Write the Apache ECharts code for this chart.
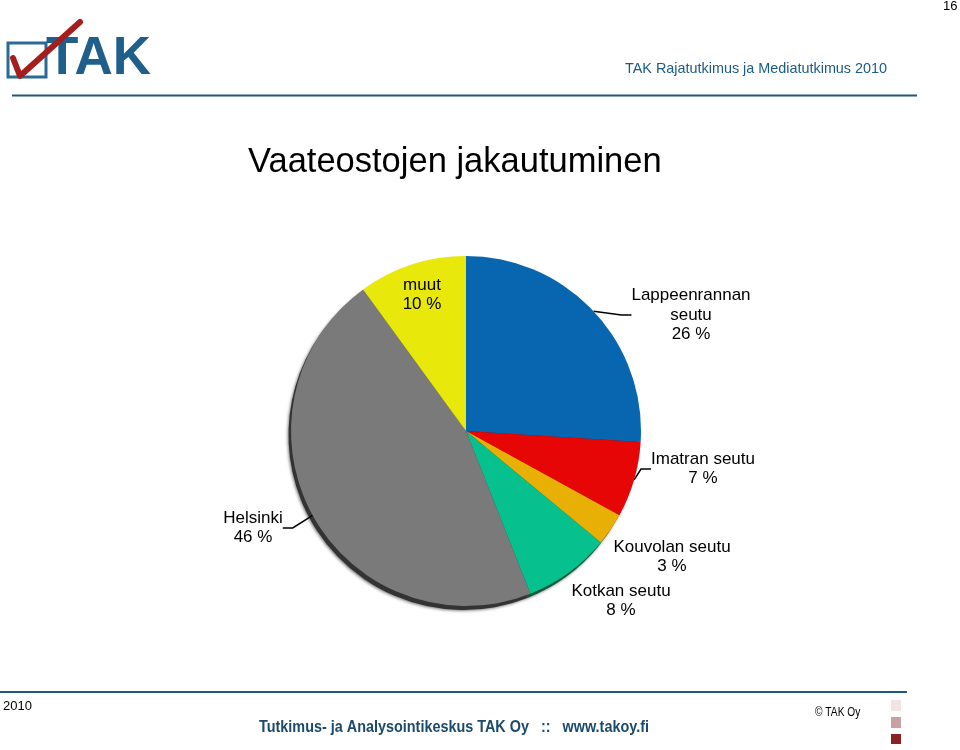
<!DOCTYPE html>
<html>
<head>
<meta charset="utf-8">
<script src="https://cdn.jsdelivr.net/npm/echarts@6/dist/echarts.min.js"></script>
<style>html,body{margin:0;padding:0;background:#fff}#c{width:960px;height:750px}</style>
</head>
<body>
<div id="c"></div>
<script>
// ---- data ----
const categories = ['Lappeenrannan seutu', 'Imatran seutu', 'Kouvolan seutu', 'Kotkan seutu', 'Helsinki', 'muut'];
const values = [26, 7, 3, 8, 46, 10];
const labelNames = ['Lappeenrannan\nseutu', 'Imatran seutu', 'Kouvolan seutu', 'Kotkan seutu', 'Helsinki', 'muut'];

// ---- styles / layout ----
const colors = ['#0865b0', '#e60606', '#e8b005', '#06c08e', '#7a7a7a', '#e8e80a'];
const edgeColors = ['#06406e', '#7a0505', '#7a5a05', '#0a5a3c', '#333333', '#7a7a05'];
const labelPos = [[691, 315], [703, 469], [672, 557], [621, 601], [253, 528], [422, 295]];
const showLine = [true, true, false, false, true, false];
const FONT = '"Liberation Sans", Arial, sans-serif';
const NAVY = '#1b5c84';

const chart = echarts.init(document.getElementById('c'));
chart.setOption({
  animation: false,
  backgroundColor: '#fff',
  title: {
    text: 'Vaateostojen jakautuminen',
    left: 243, top: 140,
    textStyle: {fontFamily: FONT, fontSize: 34.5, fontWeight: 'normal', color: '#000'}
  },
  series: [{
    // darker rim (3-D edge) behind the pie
    type: 'pie',
    center: [463.5, 435],
    radius: 175,
    startAngle: 90,
    clockwise: true,
    silent: true,
    z: 1,
    label: {show: false},
    labelLine: {show: false},
    data: categories.map((n, i) => ({name: n, value: values[i], itemStyle: {color: edgeColors[i]}})),
    itemStyle: {shadowColor: 'rgba(0,0,0,0.5)', shadowBlur: 3, shadowOffsetX: -1, shadowOffsetY: 1}
  }, {
    type: 'pie',
    center: [466, 431],
    radius: 175,
    startAngle: 90,
    clockwise: true,
    z: 2,
    data: categories.map((n, i) => ({
      name: n, value: values[i],
      itemStyle: {color: colors[i]},
      labelLine: {show: showLine[i]}
    })),
    emphasis: {disabled: true},
    label: {
      show: true,
      formatter: p => labelNames[p.dataIndex] + '\n' + p.value + ' %',
      fontFamily: FONT, fontSize: 17, color: '#000', lineHeight: 19.5, align: 'center'
    },
    labelLine: {show: true, length: 15, length2: 10, lineStyle: {color: '#000', width: 1.5}},
    labelLayout: p => ({
      x: labelPos[p.dataIndex][0], y: labelPos[p.dataIndex][1],
      align: 'center', verticalAlign: 'middle'
    })
  }],
  graphic: [
    // page number
    {type: 'text', left: 943, top: 0, style: {text: '16', fontFamily: FONT, fontSize: 13, fill: '#000'}},
    // logo
    {type: 'rect', shape: {x: 8, y: 43, width: 38, height: 34}, style: {fill: 'none', stroke: '#2a6a95', lineWidth: 3}},
    {type: 'text', x: 46, y: 59, style: {text: 'TAK', fontFamily: FONT, fontWeight: 'bold', fontSize: 53, fill: '#1f5f8c', verticalAlign: 'middle', letterSpacing: -5}},
    {type: 'polyline', shape: {points: [[13, 58], [20, 76], [80, 22]]}, style: {stroke: '#a51e1e', lineWidth: 6, fill: 'none', lineCap: 'round', lineJoin: 'round'}},
    // header
    {type: 'text', left: 625, top: 62, style: {text: 'TAK Rajatutkimus ja Mediatutkimus 2010', fontFamily: FONT, fontSize: 14.4, fill: NAVY}},
    {type: 'line', shape: {x1: 12, y1: 95.5, x2: 917, y2: 95.5}, style: {stroke: '#1b5a78', lineWidth: 2}},
    // footer
    {type: 'line', shape: {x1: 0, y1: 692, x2: 907, y2: 692}, style: {stroke: '#1b5a78', lineWidth: 2}},
    {type: 'text', left: 3, top: 700, style: {text: '2010', fontFamily: FONT, fontSize: 13, fill: '#000'}},
    {type: 'text', x: 454, y: 728, scaleX: 0.9, style: {text: 'Tutkimus- ja Analysointikeskus TAK Oy   ::   www.takoy.fi', fontFamily: FONT, fontWeight: 'bold', fontSize: 16, fill: '#1a4a6c', align: 'center', verticalAlign: 'middle'}},
    {type: 'text', x: 815, y: 713, scaleX: 0.85, style: {text: '© TAK Oy', fontFamily: FONT, fontSize: 12, fill: '#000', verticalAlign: 'middle'}},
    {type: 'rect', shape: {x: 891, y: 700, width: 10, height: 11}, style: {fill: '#f2e4e5'}},
    {type: 'rect', shape: {x: 891, y: 717, width: 10, height: 11}, style: {fill: '#c9a1a4'}},
    {type: 'rect', shape: {x: 891, y: 734, width: 10, height: 10}, style: {fill: '#8c2124'}}
  ]
});
</script>
</body>
</html>
